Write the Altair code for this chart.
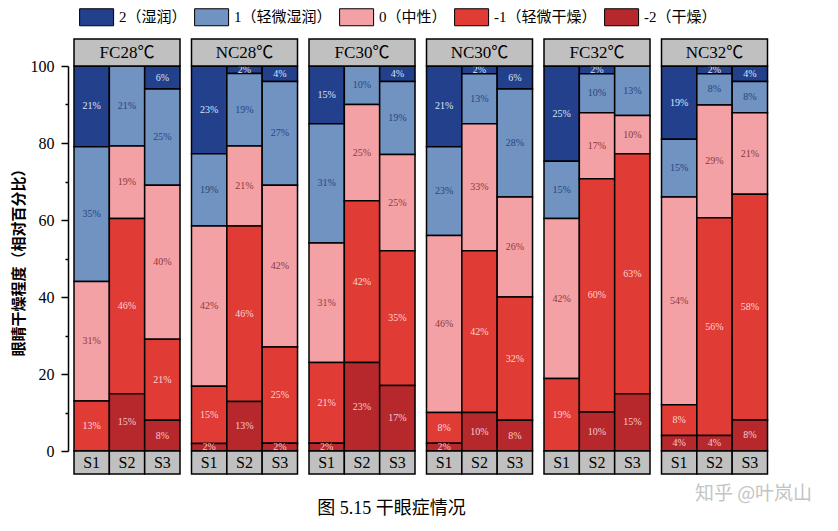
import altair as alt
import pandas as pd

conditions = ["FC28℃", "NC28℃", "FC30℃", "NC30℃", "FC32℃", "NC32℃"]
stages = ["S1", "S2", "S3"]
levels = [2, 1, 0, -1, -2]
level_labels = ["2（湿润）", "1（轻微湿润）", "0（中性）", "-1（轻微干燥）", "-2（干燥）"]
colors = ["#22408c", "#7093c2", "#f4a1a6", "#e03b35", "#b6282c"]
text_colors = ["#dbe4f5", "#27457f", "#8b3a40", "#fcd6d6", "#f6caca"]

# values ordered condition x stage (FC28 S1,S2,S3, NC28 S1,S2,S3, ...)
lev_p2 = [21, 0, 6, 23, 2, 4, 15, 0, 4, 21, 2, 6, 25, 2, 0, 19, 2, 4]
lev_p1 = [35, 21, 25, 19, 19, 27, 31, 10, 19, 23, 13, 28, 15, 10, 13, 15, 8, 8]
lev_0 = [31, 19, 40, 42, 21, 42, 31, 25, 25, 46, 33, 26, 42, 17, 10, 54, 29, 21]
lev_m1 = [13, 46, 21, 15, 46, 25, 21, 42, 35, 8, 42, 32, 19, 60, 63, 8, 56, 58]
lev_m2 = [0, 15, 8, 2, 13, 2, 2, 23, 17, 2, 10, 8, 0, 10, 15, 4, 4, 8]

series = [lev_p2, lev_p1, lev_0, lev_m1, lev_m2]
rows = []
pairs = [(c, s) for c in conditions for s in stages]
for i, (c, s) in enumerate(pairs):
    for lev, lab, arr, tc in zip(levels, level_labels, series, text_colors):
        rows.append(dict(cond=c, stage=s, lev=lev, label=lab, value=arr[i], tc=tc))
df = pd.DataFrame(rows)
stage_df = pd.DataFrame({"stage": stages})

W, H = 106, 385
SERIF = "Liberation Serif, Noto Sans CJK SC"
YTITLE = "眼睛干燥程度（相对百分比）"


def panel(i, c):
    base = (
        alt.Chart(df)
        .transform_filter(alt.datum.cond == c)
        .transform_joinaggregate(total="sum(value)", groupby=["stage"])
        .transform_calculate(pct="datum.value / datum.total * 100")
        .transform_stack(stack="pct", as_=["y0", "y1"], groupby=["stage"],
                         sort=[alt.SortField("lev", order="ascending")])
        .transform_calculate(ymid="(datum.y0 + datum.y1) / 2",
                             txt="datum.value + '%'")
    )
    x = alt.X("stage:N", scale=alt.Scale(domain=stages, paddingInner=0, paddingOuter=0), axis=None)
    yscale = alt.Scale(domain=[0, 100], nice=False)
    if i == 0:
        yaxis = alt.Axis(
            values=list(range(0, 101, 10)),
            labelExpr="datum.value % 20 == 0 ? datum.label : ''",
            tickSize={"condition": {"test": "datum.value % 20 == 0", "value": 7}, "value": 3},
            tickWidth=1.5, tickColor="black", domainColor="black", domainWidth=1.5,
            labelFont=SERIF, labelFontSize=16, labelColor="black", labelPadding=7,
            offset=6, grid=False,
            titleFont="Noto Sans CJK SC", titleFontSize=15, titleFontWeight="bold",
            titleColor="black", titlePadding=4,
        )
    else:
        yaxis = None
    bars = base.mark_bar(stroke="black", strokeWidth=1.5).encode(
        x=x,
        y=alt.Y("y0:Q", scale=yscale, axis=yaxis, title=YTITLE),
        y2="y1:Q",
        color=alt.Color(
            "label:N",
            scale=alt.Scale(domain=level_labels, range=colors),
            legend=alt.Legend(
                title=None, orient="top", direction="horizontal",
                symbolType="M-0.4,-1H3.6V1H-0.4Z", symbolSize=289,
                symbolStrokeColor="black", symbolStrokeWidth=1, symbolOpacity=1,
                labelFont=SERIF, labelFontSize=15, labelColor="black",
                labelOffset=27, columnPadding=2, labelLimit=0, offset=9, padding=0,
            ),
        ),
    )
    labels = base.transform_filter("datum.value > 0").mark_text(font=SERIF, fontSize=10).encode(
        x=x,
        y=alt.Y("ymid:Q", scale=yscale, axis=yaxis, title=YTITLE),
        text="txt:N",
        fill=alt.Fill("tc:N", scale=None),
    )
    head_df = pd.DataFrame({"cond": [c]})
    head_box = alt.Chart(head_df).mark_rect(fill="#c0c0c0", stroke="black", strokeWidth=1.5).encode(
        x=alt.value(0), x2=alt.value(W), y=alt.value(-27), y2=alt.value(0)
    )
    head_txt = alt.Chart(head_df).mark_text(font=SERIF, fontSize=17, color="black").encode(
        x=alt.value(W / 2), y=alt.value(-13), text="cond:N"
    )
    foot_box = alt.Chart(stage_df).mark_rect(fill="#c0c0c0", stroke="black", strokeWidth=1.5).encode(
        x=x, y=alt.value(H), y2=alt.value(H + 23)
    )
    foot_txt = alt.Chart(stage_df).mark_text(font=SERIF, fontSize=16, color="black").encode(
        x=x, y=alt.value(H + 12), text="stage:N"
    )
    layers = [bars, labels, head_box, head_txt, foot_box, foot_txt]
    if i == len(conditions) - 1:
        wm = alt.Chart(pd.DataFrame({"t": ["知乎 @叶岚山"]})).mark_text(
            font="Noto Sans CJK SC", fontSize=19, color="#c4c4c4"
        ).encode(x=alt.value(92), y=alt.value(H + 43), text="t:N")
        layers.append(wm)
    return alt.layer(*layers).properties(width=W, height=H)


chart = (
    alt.hconcat(*[panel(i, c) for i, c in enumerate(conditions)], spacing=7.5)
    .properties(
        padding={"left": 2, "top": 0, "right": 0, "bottom": 0},
        title=alt.TitleParams("图 5.15 干眼症情况", orient="bottom", anchor="middle",
                              font=SERIF, fontSize=18, fontWeight="normal", color="black",
                              offset=-5, dx=-20),
    )
    .configure_view(stroke="black", strokeWidth=1.5)
    .configure(background="white")
)

chart.save("out.html", embed_options={"renderer": "svg", "actions": False})
